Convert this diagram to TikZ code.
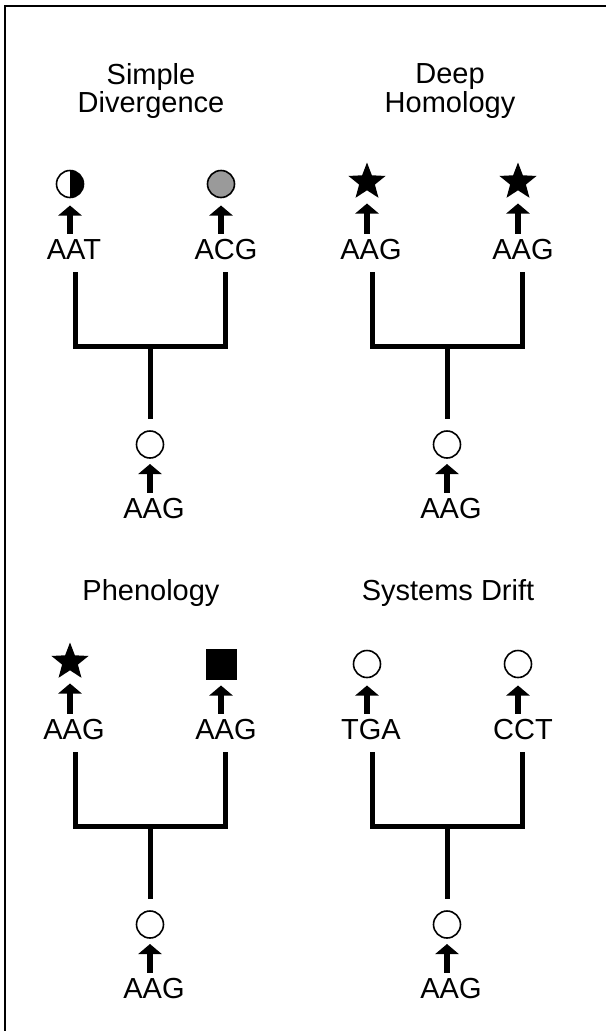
\documentclass[tikz,border=0pt]{standalone}
\usepackage{fontspec}
\setmainfont{Liberation Sans}
\usetikzlibrary{arrows.meta,shapes.geometric}
\definecolor{midgray}{HTML}{9A9A9A}
\tikzset{
  txt/.style={inner sep=0pt, font=\fontsize{29}{28.5}\selectfont},
  ttl/.style={txt, align=center},
  seq/.style={txt, anchor=base},
  sym/.style={inner sep=0pt, line width=1.6pt},
  circ/.style={circle, draw=black, fill=white, minimum size=27pt},
  halfc/.style={circ, path picture={\fill[black] (path picture bounding box.north) rectangle (path picture bounding box.south east);}},
  grayc/.style={circ, fill=midgray},
  starsym/.style={star, star points=5, star point ratio=2.35, fill=black, minimum size=39pt, yshift=2pt},
  sqsym/.style={rectangle, fill=black, minimum size=31pt},
  arr/.style={line width=5.5pt, -{Triangle[width=23pt,length=10pt]}},
  tree/.style={line width=5pt, line join=miter},
  frame/.style={line width=2pt}
}
\newcommand{\treepanel}[7]{%
\begin{scope}[shift={(#2,#3)}]
  \node[sym,#6] (#1sL) at (70,184) {};
  \node[sym,#7] (#1sR) at (221,184) {};
  \node[seq] (#1lL) at (74,259) {#4};
  \node[seq] (#1lR) at (226,259) {#5};
  \node[sym,circ] (#1sB) at (150,444.5) {};
  \node[seq] (#1lB) at (154,518) {AAG};
  \draw[arr] ([yshift=5pt]#1lL.north -| #1sL.center) -- ([yshift=-21.5pt]#1sL.center);
  \draw[arr] ([yshift=5pt]#1lR.north -| #1sR.center) -- ([yshift=-21.5pt]#1sR.center);
  \draw[arr] ([yshift=5pt]#1lB.north -| #1sB.center) -- ([yshift=-19.5pt]#1sB.center);
  \coordinate (#1tL) at (75,272);
  \coordinate (#1tR) at (225,272);
  \coordinate (#1j) at (150,346);
  \coordinate (#1b) at (150,419);
  \draw[tree] (#1tL) |- (#1j) -| (#1tR);
  \draw[tree] (#1j) -- (#1b);
\end{scope}}
\begin{document}
\begin{tikzpicture}[x=1pt,y=-1pt]
  \useasboundingbox (0,0) rectangle (606,1031);
  \fill[white] (0,0) rectangle (606,1031);
  \draw[frame] (5,1031) -- (5,5.5) -- (606,5.5);
  \node[ttl] (t1) at (151,91) {Simple\\Divergence};
  \node[ttl] (t2) at (450,91) {Deep\\Homology};
  \node[txt, anchor=base] (t3) at (151,600) {Phenology};
  \node[txt, anchor=base] (t4) at (448,600) {Systems Drift};
  \treepanel{a}{0}{0}{AAT}{ACG}{halfc}{grayc}
  \treepanel{b}{297}{0}{AAG}{AAG}{starsym}{starsym}
  \treepanel{c}{0}{480}{AAG}{AAG}{starsym}{sqsym}
  \treepanel{d}{297}{480}{TGA}{CCT}{circ}{circ}
\end{tikzpicture}
\end{document}
